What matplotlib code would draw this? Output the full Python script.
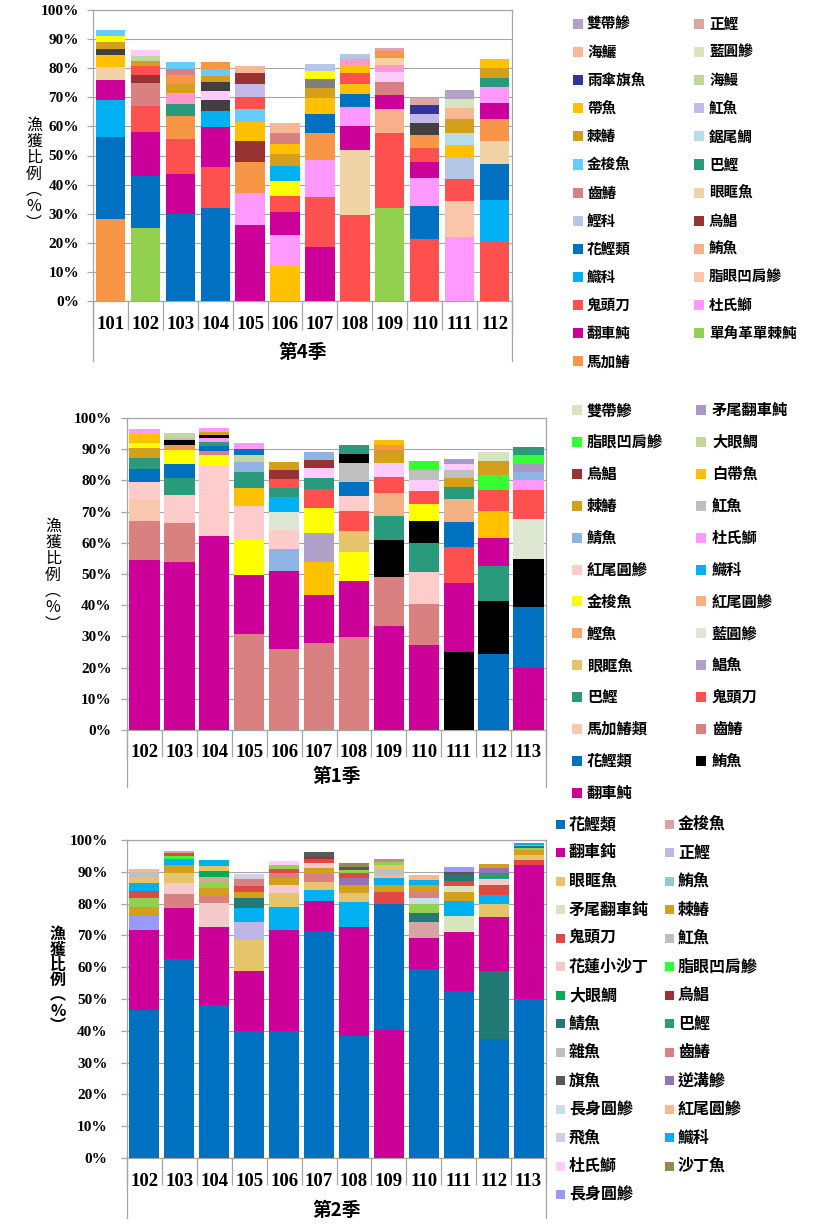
import matplotlib
matplotlib.use("Agg")
import matplotlib.pyplot as plt
from matplotlib.patches import Rectangle
from matplotlib.lines import Line2D
from matplotlib.ticker import PercentFormatter

W, H = 826, 1231
CJK = ['Noto Sans CJK TC', 'DejaVu Sans']
NUM = ['Liberation Serif', 'DejaVu Serif']
GRAY = '#A6A6A6'

# ---------------------------------------------------------------- 第4季
q4_years = ['101', '102', '103', '104', '105', '106', '107', '108', '109', '110', '111', '112']
q4_legend = ['雙帶鰺', '正鰹', '海鱺', '藍圓鰺', '雨傘旗魚', '海鰻', '帶魚', '魟魚', '棘鰆', '鋸尾鯛',
             '金梭魚', '巴鰹', '齒鰆', '眼眶魚', '鰹科', '烏鯧', '花鰹類', '鮪魚', '鱵科', '脂眼凹肩鰺',
             '鬼頭刀', '杜氏鰤', '翻車魨', '單角革單棘魨', '馬加鰆']
q4_species = [
    ['馬加鰆', '花鰹類', '鱵科', '翻車魨', '眼眶魚', '帶魚', '_深灰', '棘鰆', '_黃', '金梭魚'],
    ['單角革單棘魨', '花鰹類', '翻車魨', '鬼頭刀', '齒鰆', '烏鯧', '鬼頭刀', '棘鰆', '海鰻', '_淡粉'],
    ['花鰹類', '翻車魨', '鬼頭刀', '馬加鰆', '巴鰹', '_粉', '棘鰆', '馬加鰆', '齒鰆', '金梭魚'],
    ['花鰹類', '鬼頭刀', '翻車魨', '鱵科', '_深灰', '_淡粉', '_深灰', '棘鰆', '金梭魚', '馬加鰆'],
    ['翻車魨', '杜氏鰤', '馬加鰆', '烏鯧', '帶魚', '金梭魚', '鬼頭刀', '魟魚', '烏鯧', '海鱺'],
    ['帶魚', '杜氏鰤', '翻車魨', '鬼頭刀', '_黃', '鱵科', '棘鰆', '帶魚', '齒鰆', '海鱺'],
    ['翻車魨', '鬼頭刀', '杜氏鰤', '馬加鰆', '花鰹類', '帶魚', '棘鰆', '_灰', '_黃', '鰹科'],
    ['鬼頭刀', '眼眶魚', '翻車魨', '杜氏鰤', '花鰹類', '帶魚', '鬼頭刀', '帶魚', '_粉', '鰹科'],
    ['單角革單棘魨', '鬼頭刀', '鮪魚', '翻車魨', '齒鰆', '_淡粉', '_粉', '眼眶魚', '馬加鰆', '正鰹'],
    ['鬼頭刀', '花鰹類', '杜氏鰤', '翻車魨', '鬼頭刀', '馬加鰆', '_深灰', '魟魚', '雨傘旗魚', '正鰹'],
    ['杜氏鰤', '脂眼凹肩鰺', '鬼頭刀', '鰹科', '帶魚', '鋸尾鯛', '棘鰆', '海鱺', '藍圓鰺', '雙帶鰺'],
    ['鬼頭刀', '鱵科', '花鰹類', '眼眶魚', '馬加鰆', '翻車魨', '杜氏鰤', '巴鰹', '棘鰆', '帶魚'],
]
q4_values = [
    [28.2, 28.1, 12.8, 6.9, 4.4, 4.0, 2.3, 2.3, 1.9, 2.3],
    [25.2, 17.9, 15.1, 8.8, 7.8, 2.9, 3.1, 1.8, 1.7, 1.9],
    [30.0, 13.8, 11.9, 8.0, 4.1, 3.6, 3.3, 3.1, 1.9, 2.4],
    [31.8, 14.3, 13.6, 5.6, 3.7, 3.2, 2.9, 2.3, 2.3, 2.6],
    [26.1, 11.1, 10.7, 7.1, 6.4, 4.6, 4.2, 4.2, 3.8, 2.6],
    [12.0, 10.7, 7.9, 5.5, 5.3, 5.0, 4.1, 3.6, 3.6, 3.4],
    [18.6, 17.3, 12.4, 9.6, 6.5, 5.5, 3.4, 2.9, 2.9, 2.3],
    [29.6, 22.4, 8.3, 6.2, 4.5, 3.6, 3.7, 2.5, 2.2, 1.8],
    [31.8, 25.9, 8.3, 4.8, 4.4, 3.4, 2.4, 2.4, 2.4, 1.1],
    [21.3, 11.5, 9.5, 5.5, 4.9, 4.4, 4.0, 3.2, 3.1, 2.3],
    [22.0, 12.2, 7.8, 7.3, 4.4, 4.1, 4.6, 3.9, 3.2, 2.9],
    [20.4, 14.2, 12.5, 7.9, 7.5, 5.5, 5.4, 3.4, 3.1, 3.2],
]
q4_colors = {
    '雙帶鰺': '#B3A2C7', '正鰹': '#DBA5A5', '海鱺': '#F9B894', '藍圓鰺': '#D8E4BC',
    '雨傘旗魚': '#333399', '海鰻': '#C3D69B', '帶魚': '#FFC000', '魟魚': '#C3B8E8',
    '棘鰆': '#D4A01C', '鋸尾鯛': '#B7DEE8', '金梭魚': '#66CCFF', '巴鰹': '#2A9A7C',
    '齒鰆': '#D98080', '眼眶魚': '#F0D4A6', '鰹科': '#B4C7E7', '烏鯧': '#993333',
    '花鰹類': '#0070C0', '鮪魚': '#F8B08C', '鱵科': '#00B0F0', '脂眼凹肩鰺': '#FAC6AA',
    '鬼頭刀': '#FF5050', '杜氏鰤': '#FF99FF', '翻車魨': '#CC0099', '單角革單棘魨': '#92D050',
    '馬加鰆': '#F79646',
    '_深灰': '#404040', '_黃': '#FFFF00', '_灰': '#7F7F7F', '_淡粉': '#FFCCFF', '_粉': '#FF99CC',
}

# ---------------------------------------------------------------- 第1季
q1_years = ['102', '103', '104', '105', '106', '107', '108', '109', '110', '111', '112', '113']
q1_legend = ['雙帶鰺', '矛尾翻車魨', '脂眼凹肩鰺', '大眼鯛', '烏鯧', '白帶魚', '棘鰆', '魟魚',
             '鯖魚', '杜氏鰤', '紅尾圓鰺', '鱵科', '金梭魚', '紅尾圓鰺2', '鰹魚', '藍圓鰺',
             '眼眶魚', '鯧魚', '巴鰹', '鬼頭刀', '馬加鰆類', '齒鰆', '花鰹類', '鮪魚', '翻車魨']
q1_species = [
    ['翻車魨', '齒鰆', '馬加鰆類', '紅尾圓鰺', '花鰹類', '巴鰹', '棘鰆', '金梭魚', '白帶魚', '杜氏鰤'],
    ['翻車魨', '齒鰆', '紅尾圓鰺', '巴鰹', '花鰹類', '金梭魚', '_橘', '鮪魚', '魟魚', '大眼鯛'],
    ['翻車魨', '紅尾圓鰺', '金梭魚', '齒鰆', '花鰹類', '巴鰹', '杜氏鰤', '鮪魚', '棘鰆', '杜氏鰤'],
    ['齒鰆', '翻車魨', '金梭魚', '紅尾圓鰺', '白帶魚', '巴鰹', '鯖魚', '大眼鯛', '花鰹類', '杜氏鰤'],
    ['齒鰆', '翻車魨', '鯖魚', '紅尾圓鰺', '藍圓鰺', '鱵科', '巴鰹', '鬼頭刀', '烏鯧', '棘鰆'],
    ['齒鰆', '翻車魨', '白帶魚', '鯧魚', '金梭魚', '鬼頭刀', '巴鰹', '_淡紫粉', '烏鯧', '鯖魚'],
    ['齒鰆', '翻車魨', '金梭魚', '眼眶魚', '鬼頭刀', '紅尾圓鰺', '花鰹類', '魟魚', '鮪魚', '巴鰹'],
    ['翻車魨', '齒鰆', '鮪魚', '巴鰹', '紅尾圓鰺2', '鬼頭刀', '_淡紫粉', '棘鰆', '_橘', '白帶魚'],
    ['翻車魨', '齒鰆', '紅尾圓鰺', '巴鰹', '鮪魚', '金梭魚', '鬼頭刀', '_淡紫粉', '魟魚', '脂眼凹肩鰺'],
    ['鮪魚', '翻車魨', '鬼頭刀', '花鰹類', '紅尾圓鰺2', '巴鰹', '棘鰆', '魟魚', '_淡紫粉', '矛尾翻車魨'],
    ['花鰹類', '鮪魚', '巴鰹', '翻車魨', '白帶魚', '鬼頭刀', '脂眼凹肩鰺', '棘鰆', '雙帶鰺'],
    ['翻車魨', '花鰹類', '鮪魚', '藍圓鰺', '鬼頭刀', '杜氏鰤', '鯖魚', '矛尾翻車魨', '脂眼凹肩鰺', '巴鰹'],
]
q1_values = [
    [54.5, 12.6, 6.8, 5.5, 4.1, 3.7, 3.3, 1.6, 2.8, 1.6],
    [53.9, 12.6, 8.7, 5.6, 4.5, 4.4, 1.5, 1.6, 0.9, 1.4],
    [62.1, 22.9, 3.0, 1.5, 1.4, 1.4, 1.3, 0.9, 1.1, 1.1],
    [30.8, 18.8, 11.6, 10.5, 6.0, 5.0, 3.1, 2.4, 2.0, 1.8],
    [25.9, 25.2, 7.0, 6.1, 5.6, 4.9, 3.0, 2.9, 2.7, 2.6],
    [28.0, 15.3, 10.5, 9.3, 7.9, 6.2, 3.6, 3.3, 2.4, 2.6],
    [29.7, 18.2, 9.0, 7.0, 6.2, 4.9, 4.5, 6.2, 2.8, 2.7],
    [33.2, 15.8, 11.8, 7.9, 7.3, 5.1, 4.4, 4.3, 1.7, 1.6],
    [27.1, 13.3, 10.2, 9.3, 7.1, 5.3, 4.3, 3.4, 3.2, 3.0],
    [24.9, 22.1, 11.7, 8.1, 7.3, 3.9, 2.8, 2.4, 2.1, 1.6],
    [24.3, 17.0, 11.3, 8.9, 8.8, 6.5, 5.0, 4.3, 3.0],
    [19.8, 19.5, 15.5, 12.7, 9.3, 3.2, 2.7, 2.7, 2.7, 2.7],
]
q1_colors = {
    '雙帶鰺': '#D7E4BD', '矛尾翻車魨': '#A898C8', '脂眼凹肩鰺': '#33FF33', '大眼鯛': '#C3D69B',
    '烏鯧': '#993333', '白帶魚': '#FFC000', '棘鰆': '#D4A01C', '魟魚': '#BFBFBF',
    '鯖魚': '#8DB4E2', '杜氏鰤': '#FF99FF', '紅尾圓鰺': '#FFCCCC', '鱵科': '#00B0F0',
    '金梭魚': '#FFFF00', '紅尾圓鰺2': '#F4B183', '鰹魚': '#F9A66C', '藍圓鰺': '#DDE7D1',
    '眼眶魚': '#E6C46C', '鯧魚': '#B1A0C7', '巴鰹': '#2A9A7C', '鬼頭刀': '#FF5050',
    '馬加鰆類': '#FAC8AE', '齒鰆': '#D98080', '花鰹類': '#0070C0', '鮪魚': '#000000',
    '翻車魨': '#CC0099',
    '_淡紫粉': '#FFCCFF', '_橘': '#F79646',
}

# ---------------------------------------------------------------- 第2季
q2_years = ['102', '103', '104', '105', '106', '107', '108', '109', '110', '111', '112', '113']
q2_legend = ['花鰹類', '金梭魚', '翻車鈍', '正鰹', '眼眶魚', '鮪魚', '矛尾翻車鈍', '棘鰆',
             '鬼頭刀', '魟魚', '花蓮小沙丁', '脂眼凹肩鰺', '大眼鯛', '烏鯧', '鯖魚', '巴鰹',
             '雜魚', '齒鰆', '旗魚', '逆溝鰺', '長身圓鰺', '紅尾圓鰺', '飛魚', '鱵科',
             '杜氏鰤', '沙丁魚', '長身圓鰺2']
q2_species = [
    ['花鰹類', '翻車鈍', '長身圓鰺2', '棘鰆', '_淺綠', '鬼頭刀', '鱵科', '眼眶魚', '雜魚', '紅尾圓鰺'],
    ['花鰹類', '翻車鈍', '齒鰆', '花蓮小沙丁', '眼眶魚', '棘鰆', '鱵科', '脂眼凹肩鰺', '鬼頭刀', '金梭魚'],
    ['花鰹類', '翻車鈍', '花蓮小沙丁', '齒鰆', '棘鰆', '_淺綠', '金梭魚', '大眼鯛', '眼眶魚', '鱵科'],
    ['花鰹類', '翻車鈍', '眼眶魚', '正鰹', '鱵科', '鯖魚', '棘鰆', '鬼頭刀', '齒鰆', '飛魚'],
    ['花鰹類', '翻車鈍', '鱵科', '眼眶魚', '花蓮小沙丁', '棘鰆', '齒鰆', '鬼頭刀', '_淺綠', '杜氏鰤'],
    ['花鰹類', '翻車鈍', '鱵科', '眼眶魚', '齒鰆', '棘鰆', '花蓮小沙丁', '鬼頭刀', '烏鯧', '旗魚'],
    ['花鰹類', '翻車鈍', '鱵科', '眼眶魚', '棘鰆', '逆溝鰺', '鬼頭刀', '_淺綠', '旗魚', '沙丁魚'],
    ['翻車鈍', '花鰹類', '鬼頭刀', '棘鰆', '鱵科', '紅尾圓鰺', '雜魚', '眼眶魚', '_淺綠', '齒鰆'],
    ['花鰹類', '翻車鈍', '金梭魚', '鯖魚', '_淺綠', '長身圓鰺', '齒鰆', '棘鰆', '鱵科', '紅尾圓鰺'],
    ['花鰹類', '翻車鈍', '矛尾翻車鈍', '鱵科', '棘鰆', '矛尾翻車鈍', '鬼頭刀', '鯖魚', '旗魚', '長身圓鰺2'],
    ['花鰹類', '鯖魚', '翻車鈍', '眼眶魚', '鱵科', '鬼頭刀', '花蓮小沙丁', '巴鰹', '逆溝鰺', '棘鰆'],
    ['花鰹類', '翻車鈍', '鬼頭刀', '眼眶魚', '棘鰆', '_淺綠', '鯖魚', '脂眼凹肩鰺', '鱵科'],
]
q2_values = [
    [46.4, 25.2, 4.5, 2.9, 2.7, 2.3, 2.6, 1.7, 1.6, 0.9],
    [62.5, 16.1, 4.5, 3.5, 2.9, 2.6, 1.9, 1.0, 1.0, 0.5],
    [48.2, 24.4, 7.7, 2.5, 2.2, 1.8, 1.6, 1.9, 1.5, 1.8],
    [39.9, 18.8, 10.0, 5.6, 4.3, 3.2, 2.0, 1.7, 2.1, 1.6],
    [39.9, 31.7, 7.3, 4.4, 2.5, 2.4, 1.3, 1.3, 1.2, 1.4],
    [71.5, 9.3, 3.4, 2.7, 2.4, 1.9, 1.5, 1.3, 0.8, 1.4],
    [38.5, 34.2, 7.8, 2.9, 2.6, 1.9, 1.7, 1.0, 1.0, 1.2],
    [40.3, 39.7, 3.8, 2.0, 2.3, 1.0, 1.6, 1.3, 1.0, 0.9],
    [59.4, 9.7, 5.0, 3.1, 2.8, 1.9, 2.0, 1.8, 1.6, 1.6],
    [52.4, 18.6, 5.0, 4.9, 2.9, 1.6, 1.8, 1.7, 0.9, 1.6],
    [37.5, 21.3, 17.0, 4.2, 2.8, 3.0, 1.9, 1.9, 1.6, 1.3],
    [50.1, 42.0, 1.5, 1.7, 1.5, 0.7, 0.5, 0.5, 0.7],
]
q2_colors = {
    '花鰹類': '#0070C0', '金梭魚': '#D9A3A3', '翻車鈍': '#CC0099', '正鰹': '#BFB5E6',
    '眼眶魚': '#E6C46C', '鮪魚': '#93C6D6', '矛尾翻車鈍': '#D7E4BD', '棘鰆': '#D4A01C',
    '鬼頭刀': '#E04848', '魟魚': '#BFBFBF', '花蓮小沙丁': '#F5CACA', '脂眼凹肩鰺': '#33FF33',
    '大眼鯛': '#00B050', '烏鯧': '#993333', '鯖魚': '#217A73', '巴鰹': '#2A9A7C',
    '雜魚': '#BFBFBF', '齒鰆': '#D98080', '旗魚': '#595959', '逆溝鰺': '#9473B5',
    '長身圓鰺': '#C6DDEA', '紅尾圓鰺': '#FAB88C', '飛魚': '#D3CEE0', '鱵科': '#00B0F0',
    '杜氏鰤': '#FFCCFF', '沙丁魚': '#938953', '長身圓鰺2': '#9999FF',
    '_淺綠': '#92D050',
}

# ---------------------------------------------------------------- drawing
fig = plt.figure(figsize=(W / 100, H / 100), dpi=100)


def fx(px):
    return px / W


def fy(py):
    return 1 - py / H


def shown(name):
    return name[:-1] if name.endswith('2') else name


def draw_panel(rect, years, species, values, colors, legend, season, lay):
    l, t, r, b = rect
    ax = fig.add_axes([fx(l), fy(b), (r - l) / W, (b - t) / H])
    n = len(years)
    for i in range(n):
        bottom = 0.0
        for sp, v in zip(species[i], values[i]):
            ax.bar(i, v, bottom=bottom, width=lay['bw'], color=colors[sp],
                   linewidth=0, zorder=3)
            bottom += v
    ax.set_xlim(-0.5, n - 0.5)
    ax.set_ylim(0, 100)
    ax.set_yticks(range(0, 101, 10))
    ax.yaxis.set_major_formatter(PercentFormatter(100, decimals=0))
    ax.grid(axis='y', color=GRAY, lw=0.8, zorder=0)
    for s in ax.spines.values():
        s.set_color(GRAY)
        s.set_linewidth(0.9)
    ax.set_xticks(range(n))
    ax.set_xticklabels(years)
    ax.set_xticks([i - 0.5 for i in range(n + 1)], minor=True)
    ax.tick_params(axis='x', which='major', length=0, pad=lay['xpad'])
    ax.tick_params(axis='x', which='minor', length=lay['mtick'] * 0.72,
                   color=GRAY, width=0.9, direction='out')
    ax.tick_params(axis='y', length=4, color=GRAY, width=0.9, pad=lay['ypad'])
    for lab in ax.get_xticklabels():
        lab.set_fontfamily(NUM)
        lab.set_fontweight('bold')
        lab.set_fontsize(13.5)
    for lab in ax.get_yticklabels():
        lab.set_fontfamily(NUM)
        lab.set_fontweight('bold')
        lab.set_fontsize(11)
    ext = lay['ext'] / (b - t)
    for xa in (0, 1):
        ax.add_line(Line2D([xa, xa], [0, -ext], transform=ax.transAxes,
                           clip_on=False, color=GRAY, lw=0.9))
    # season label
    fig.text(fx((l + r) / 2), fy(lay['season_y']), season, ha='center', va='center',
             family=CJK, weight='bold', fontsize=13.5)
    # y label (vertical)
    fig.text(fx(lay['ylab_x']), fy(lay['ylab_y']), '漁\n獲\n比\n例\n︵\n%\n︶',
             ha='center', va='center', family=CJK, weight=lay['ylab_w'],
             fontsize=11.5, linespacing=0.95)
    # legend
    mx, tx, y0, dy, ms, fs = lay['leg']
    for k, name in enumerate(legend):
        row, col = divmod(k, 2)
        yc = y0 + row * dy
        fig.patches.append(Rectangle((fx(mx[col] - ms / 2), fy(yc + ms / 2)), ms / W, ms / H,
                                     transform=fig.transFigure, facecolor=colors[name],
                                     edgecolor='none'))
        fig.text(fx(tx[col]), fy(yc), shown(name), ha='left', va='center',
                 family=CJK, weight='bold', fontsize=fs)
    return ax


draw_panel((93, 10, 512, 301), q4_years, q4_species, q4_values, q4_colors, q4_legend, '第4季',
           dict(bw=0.84, xpad=11, mtick=29, ypad=6, ext=60, season_y=352,
                ylab_x=34, ylab_y=174, ylab_w='normal',
                leg=((578, 699), (587, 709), 24, 28.1, 10, 10.5)))
draw_panel((127, 418, 546, 730), q1_years, q1_species, q1_values, q1_colors, q1_legend, '第1季',
           dict(bw=0.87, xpad=10, mtick=27, ypad=7, ext=57, season_y=777,
                ylab_x=53, ylab_y=575, ylab_w='normal',
                leg=((577, 701), (587, 712), 410, 31.9, 10, 11)))
draw_panel((127, 840, 546, 1158), q2_years, q2_species, q2_values, q2_colors, q2_legend, '第2季',
           dict(bw=0.86, xpad=11, mtick=27, ypad=10, ext=60, season_y=1210,
                ylab_x=58, ylab_y=980, ylab_w='bold',
                leg=((560, 669), (569, 678), 824, 28.5, 9, 11.5)))

fig.savefig('out.png', dpi=100, facecolor='white')
